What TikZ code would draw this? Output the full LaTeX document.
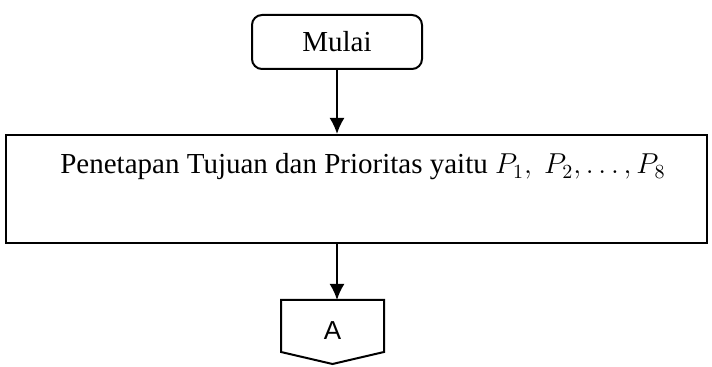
\documentclass[tikz,border=0pt]{standalone}
\usepackage{fontspec}
\setmainfont{Liberation Serif}
\newfontfamily\arialfont{Liberation Sans}
\usetikzlibrary{arrows.meta}

\begin{document}
\begin{tikzpicture}[x=0.5pt,y=-0.5pt,line width=1pt,>={Latex[length=8pt,width=7.5pt]}]
    \useasboundingbox (0,0) rectangle (712,367);
    \node[rectangle,draw,rounded corners=5pt,minimum width=85pt,minimum height=27pt,font=\fontsize{14.5}{17}\selectfont] (mulai) at (337,42) {Mulai};
    \node[rectangle,draw,minimum width=350.5pt,minimum height=54pt] (tujuan) at (356.5,189) {};
    \node[anchor=base,font=\fontsize{14.5}{17}\selectfont] (tujuanteks) at (363,174) {Penetapan Tujuan dan Prioritas yaitu $P_1,\ P_2, \ldots, P_8$};
    \node[rectangle,minimum width=50.5pt,minimum height=25pt,text height=13.8pt,font=\arialfont\fontsize{13}{15}\selectfont] (A) at (332.5,326) {A};
    \draw (A.north west) -- (A.north east) -- (A.south east) -- ([yshift=-6pt]A.south) -- (A.south west) -- cycle;
    \draw[->] (mulai.south) -- (mulai.south |- tujuan.north);
    \draw[->] (tujuan.south -| mulai.south) -- (mulai.south |- A.north);
\end{tikzpicture}
\end{document}
